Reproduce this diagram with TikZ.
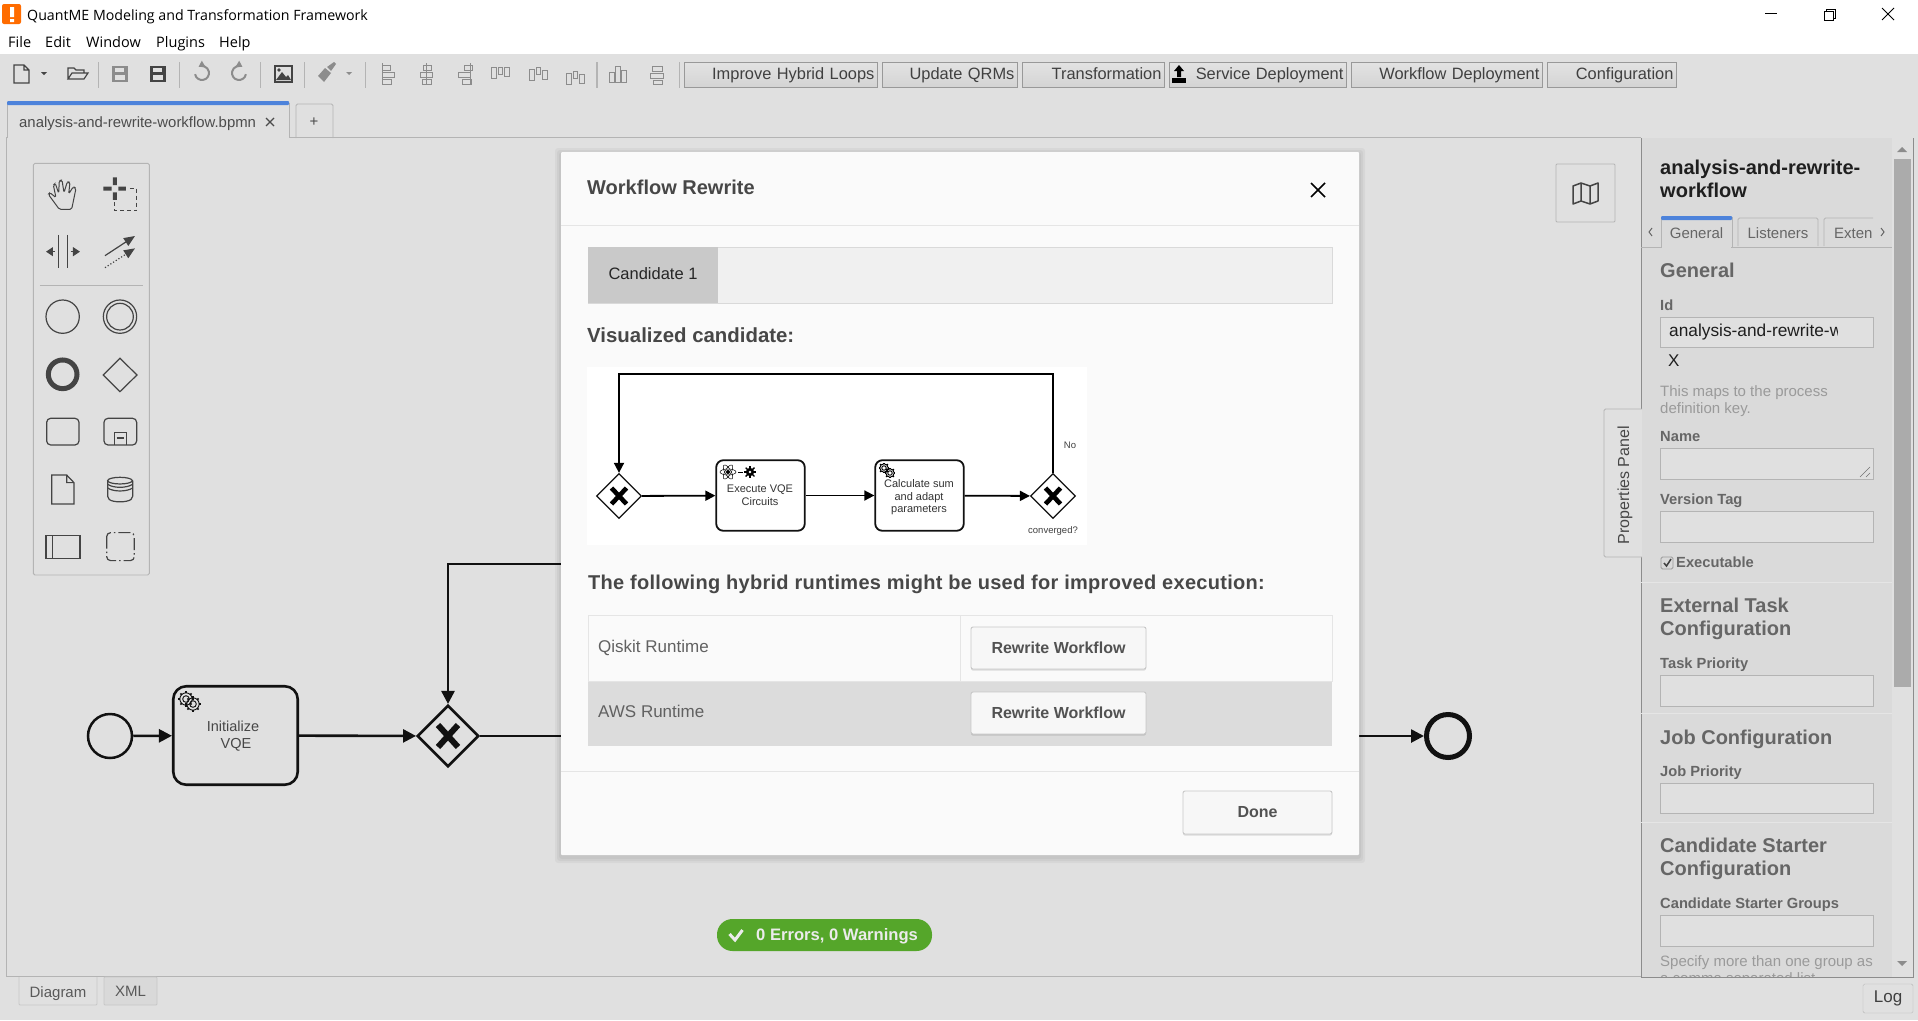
\documentclass[tikz,border=0pt]{standalone}
\usepackage{fontspec}
\setmainfont{Liberation Sans}
\newfontfamily\segoefont{Open Sans}
\usetikzlibrary{arrows.meta,shapes.geometric,calc}

\definecolor{canvasbg}{HTML}{E0E0E0}
\definecolor{panelbg}{HTML}{DADADA}
\definecolor{modalbg}{HTML}{FAFAFA}
\definecolor{rowbg}{HTML}{DCDCDC}
\definecolor{tabdark}{HTML}{C9C9C9}
\definecolor{tablight}{HTML}{F0F0F0}
\definecolor{linegray}{HTML}{B4B4B4}
\definecolor{tabblue}{HTML}{4D83DB}
\definecolor{icongray}{HTML}{444444}
\definecolor{softgray}{HTML}{8C8C8C}
\definecolor{headgray}{HTML}{666666}
\definecolor{helpgray}{HTML}{9A9A9A}
\definecolor{okgreen}{HTML}{55A62A}
\definecolor{inkblack}{HTML}{111111}

\tikzset{
	lbl/.style={font=\fontsize{#1}{#1}\selectfont, inner sep=0pt, anchor=west, yshift=-2.2pt, execute at begin node=\strut},
	lblmid/.style={lbl=#1, anchor=center},
	headlbl/.style={lbl=#1, font=\fontsize{#1}{#1}\selectfont\bfseries, text=headgray},
	smalllbl/.style={lbl=14.7, font=\fontsize{14.7}{14.7}\selectfont\bfseries, text=headgray},
	helplbl/.style={lbl=15, text=helpgray},
	topbtn/.style={draw=black!40, top color=black!11, bottom color=black!17, line width=.8pt, anchor=west, minimum height=25pt, inner xsep=3pt, inner ysep=0pt, align=right, font=\fontsize{16.4}{16.4}\selectfont, text=black!75, execute at begin node=\strut},
	whitebtn/.style={draw=black!22, line width=.9pt, fill=white!97!black, rounded corners=2pt, inner sep=0pt, font=\fontsize{16}{16}\selectfont\bfseries, text=black!68, preaction={fill=black, opacity=.12, transform canvas={yshift=-1.6pt}}},
	inputbox/.style={draw=linegray, fill=canvasbg, line width=.9pt},
	taskbox/.style={draw=inkblack, rounded corners=#1, inner sep=0pt, align=center},
	gatebox/.style={draw=inkblack, diamond, aspect=1, inner sep=0pt},
	flow/.style={draw=inkblack, line width=2.6pt, -{Triangle[length=13pt,width=13pt]}},
	miniflow/.style={draw=black, line width=1.8pt, -{Triangle[length=10pt,width=10pt]}},
	icon/.style={draw=icongray, line width=1.2pt},
	pics/gearicon/.style={code={
		\foreach \a in {0,45,...,315} \draw[line width=1.7pt] (\a:5.4) -- (\a:7.2);
		\draw[line width=.9pt] (0,0) circle[radius=5.6] (0,0) circle[radius=3];
	}},
}

\begin{document}
\begin{tikzpicture}[x=1pt,y=-1pt]
	\useasboundingbox (0,0) rectangle (1918,1020);

	% Hintergrund
	\fill[canvasbg] (0,0) rectangle (1918,1020);
	\fill[white] (0,0) rectangle (1918,54);

	% Titelleiste
	\fill[orange!85!red, rounded corners=2pt] (2,4) rectangle (21,24);
	\fill[white] (10,7) rectangle (14,17) (10,19) rectangle (14,22);
	\node[lbl=14.2, font=\fontsize{14.2}{14.2}\segoefont] (appTitle) at (27,15) {QuantME Modeling and Transformation Framework};
	\foreach \name/\x/\lab in {menuFile/8/File, menuEdit/45/Edit, menuWindow/86/Window, menuPlugins/156/Plugins, menuHelp/219/Help}
		\node[lbl=14.5, font=\fontsize{14.5}{14.5}\segoefont] (\name) at (\x,42) {\lab};
	\draw[line width=1pt] (1765,13) -- (1777,13);
	\draw[line width=1pt] (1824,11) rectangle (1833,20) (1826,11) -- (1826,9) -- (1835,9) -- (1835,18) -- (1833,18);
	\draw[line width=1pt] (1882,8) -- (1894,20) (1894,8) -- (1882,20);

	% Werkzeugleiste
	\foreach \x in {98,179,260,304,365,679}
		\draw[linegray, line width=1pt] (\x,62) -- (\x,88);
	\draw[linegray, line width=2pt] (597,62) -- (597,88);
	\draw[icon,fill=canvasbg] (14,65) -- (24,65) -- (29,70) -- (29,83) -- (14,83) -- cycle (24,65) -- (24,70) -- (29,70);
	\fill[icongray] (41,72) -- (47,72) -- (44,75) -- cycle;
	\draw[icon] (68,79) -- (68,68) -- (74,68) -- (76,70) -- (84,70) -- (84,73) (68,79) -- (72,73) -- (88,73) -- (84,79) -- cycle;
	\foreach \x/\c in {112/softgray,150/icongray} {
		\fill[\c] (\x,66) rectangle ++(16,16);
		\fill[canvasbg] (\x+3,68) rectangle ++(9,4);
		\fill[canvasbg] (\x+3,75) rectangle ++(10,5);
	}
	\draw[softgray, line width=2pt, -{Triangle[length=6pt,width=7pt]}] (195.1,74.2) arc (170:-120:7);
	\draw[softgray, line width=2pt, -{Triangle[length=6pt,width=7pt]}] (245.9,74.2) arc (10:300:7);
	\fill[icongray] (274,65) rectangle (293,83);
	\fill[canvasbg] (276,67) rectangle (291,81);
	\fill[icongray] (276,80) -- (282,72) -- (286,77) -- (288,75) -- (291,80) -- cycle (279,70) circle[radius=1.8];
	\fill[softgray] (318,76) -- (325,68) -- (331,73) -- (324,82) -- cycle (327,67) -- (334,62) -- (336,64) -- (331,71) -- cycle;
	\fill[softgray] (346,72) -- (352,72) -- (349,75) -- cycle;
	% Ausrichten
	\foreach \x/\a/\b/\c in {382/0/0/0, 420/3/0/2, 458/6/0/4} {
		\draw[softgray, line width=1pt] (\x+\a,65) rectangle ++(8,5) (\x+\b,72) rectangle ++(12,5) (\x+\c,79) rectangle ++(9,5);
	}
	\draw[softgray, line width=1pt] (382,63) -- (382,85) (426,63) -- (426,85) (470,63) -- (470,85);
	\foreach \x/\a/\b/\c in {491/67/67/67, 529/69/67/70, 566/73/71/74} {
		\draw[softgray, line width=1pt] (\x,\a) rectangle ++(5,11) (\x+7,\b) rectangle ++(4,7) (\x+13,\c) rectangle ++(5,9);
	}
	\draw[softgray, line width=1pt] (609,72) rectangle ++(5,10) (615,66) rectangle ++(5,16) (621,70) rectangle ++(5,12);
	\draw[softgray, line width=1pt] (652,66) rectangle ++(10,5) (650,73) rectangle ++(13,5) (653,80) rectangle ++(9,4);

	% Schaltflaechen oben
	\foreach \name/\x/\w/\lab in {btnLoops/684/193/Improve Hybrid Loops, btnQrm/882/135/Update QRMs, btnTrans/1022/142/Transformation, btnService/1169/177/Service Deployment, btnWorkflow/1351/191/Workflow Deployment, btnConfig/1547/129/Configuration}
		\node[topbtn, text width={\w pt-6pt}] (\name) at (\x,74.5) {\raisebox{-2pt}[0pt][0pt]{\lab}};
	\fill[black] (1179,65) -- (1184,71) -- (1181,71) -- (1181,77) -- (1177,77) -- (1177,71) -- (1174,71) -- cycle;
	\fill[black] (1172,78) rectangle (1186,83);

	% Reiter
	\draw[linegray, line width=.8pt] (6.5,976.5) -- (6.5,137.5) -- (1641,137.5);
	\fill[canvasbg] (7,101) rectangle (289,139);
	\draw[linegray, line width=.8pt] (7,138) -- (7,103) (289,103) -- (289,138);
	\fill[tabblue, rounded corners=1pt] (7,101) rectangle (289,105);
	\node[lbl=14.9, text=black!70] (tabFile) at (19,122) {analysis-and-rewrite-workflow.bpmn};
	\draw[black!70, line width=1.4pt] (266,118) -- (274,126) (274,118) -- (266,126);
	\draw[linegray, line width=.8pt, rounded corners=1.5pt] (296,138) -- (296,104) -- (333,104) -- (333,138);
	\node[lblmid=15, text=black!70] (tabPlus) at (314,121) {+};

	% Palette
	\begin{scope}[shift={(20,150)},x=.3333pt,y=-.3333pt]
		\draw[linegray, rounded corners=1.5pt, fill=white!88!black, line width=.9pt] (40,40) rectangle (388,1275);
		\draw[icongray, line width=1pt, rounded corners=1.6pt] (118,178) -- (85,133) -- (90,128) -- (108,143) -- (100,105) -- (106,100) -- (116,130) -- (118,92) -- (126,90) -- (132,128) -- (142,95) -- (150,97) -- (146,132) -- (160,110) -- (168,115) -- (155,178) -- cycle;
		\fill[icongray] (250,110) rectangle (275,122) (295,110) rectangle (318,122) (279,82) rectangle (291,105) (279,127) rectangle (291,150);
		\draw[icongray, line width=1pt, dash pattern=on 4pt off 3pt] (330,115) -- (350,115) -- (350,182) -- (283,182) -- (283,150);
		\draw[icongray, line width=1pt] (115,255) -- (115,355) (142,255) -- (142,355);
		\draw[icongray, line width=1.2pt, -{Triangle[length=7pt,width=9pt]}] (105,305) -- (78,305);
		\draw[icongray, line width=1.2pt, -{Triangle[length=7pt,width=9pt]}] (152,305) -- (180,305);
		\draw[icongray, line width=1.2pt, -{Triangle[length=11pt,width=9pt]}] (255,317) -- (345,258);
		\draw[icongray, line width=1.2pt, dotted, -{Triangle[length=11pt,width=9pt]}] (255,353) -- (345,295);
		\draw[linegray, line width=1pt] (60,408) -- (368,408);
		\draw[icon] (128,500) circle[radius=50];
		\draw[icon] (300,500) circle[radius=50] (300,500) circle[radius=40];
		\draw[icongray, line width=5pt] (128,673) circle[radius=43];
		\draw[icon] (300,625) -- (351,675) -- (300,725) -- (250,675) -- cycle;
		\draw[icon, rounded corners=4pt] (80,805) rectangle (177,885);
		\draw[icon, rounded corners=4pt] (252,805) rectangle (350,885);
		\draw[icon] (283,885) -- (283,848) -- (320,848) -- (320,885) (290,864) -- (312,864);
		\draw[icon] (95,975) -- (140,975) -- (162,998) -- (162,1062) -- (95,1062) -- cycle (140,975) -- (140,998) -- (162,998);
		\draw[icon, rounded corners=2pt] (263,992) -- (263,1045) .. controls (280,1058) and (320,1058) .. (338,1045) -- (338,992);
		\draw[icon] (300,992) ellipse[x radius=37, y radius=10];
		\draw[icon] (263,1003) .. controls (280,1015) and (320,1015) .. (338,1003) (263,1014) .. controls (280,1026) and (320,1026) .. (338,1014);
		\draw[icon] (78,1157) rectangle (180,1225) (97,1157) -- (97,1225);
		\draw[icon, rounded corners=4pt, dash pattern=on 12pt off 3pt on 1.5pt off 3pt] (260,1148) rectangle (343,1232);
	\end{scope}

	% Kartenknopf
	\draw[linegray, line width=.8pt, rounded corners=1pt] (1556,164) rectangle (1615,222);
	\draw[icongray, line width=1.5pt, line join=round] (1573,186) -- (1581,183) -- (1590,186) -- (1598,183) -- (1598,201) -- (1590,204) -- (1581,201) -- (1573,204) -- cycle (1581,183) -- (1581,201) (1590,186) -- (1590,204);

	% Hauptdiagramm
	\node[draw=inkblack, circle, line width=2.5pt, minimum size=44pt, inner sep=0pt] (startEvent) at (110,736) {};
	\node[taskbox=13pt, line width=2.6pt, minimum width=124.5pt, minimum height=98.5pt] (initTask) at (235.5,735.5) {};
	\node[lblmid=14.5, text=black!72] (initLabelA) at (233,726) {Initialize};
	\node[lblmid=14.5, text=black!72] (initLabelB) at (236,743) {VQE};
	\pic[inkblack, scale=1.1] at (186,699) {gearicon};
	\pic[inkblack, scale=1.1] at (193,704) {gearicon};
	\node[gatebox, line width=2.6pt, minimum size=61.5pt] (gateMain) at (448,736) {};
	\draw[inkblack, line width=6pt] ($(gateMain)+(-10,-11)$) -- ($(gateMain)+(10,11)$) ($(gateMain)+(10,-11)$) -- ($(gateMain)+(-10,11)$);
	\node[draw=inkblack, circle, line width=5pt, minimum size=43pt, inner sep=0pt] (endEvent) at (1448,736) {};
	\coordinate (loopEnd) at (620,564);
	\draw[flow] (startEvent) -- (initTask);
	\draw[flow] (initTask) -- (gateMain);
	\draw[flow] (loopEnd) -| (gateMain.north);
	\draw[flow] (gateMain) -- (endEvent);

	% Statusanzeige
	\node[fill=okgreen, rounded corners=15.5pt, minimum width=215pt, minimum height=32pt, inner sep=0pt] (statusBadge) at (824.5,935) {};
	\draw[black!8, line width=3pt] (729.5,934) -- (735,940) -- (742.5,930);
	\node[lbl=16.6, font=\fontsize{16.6}{16.6}\selectfont\bfseries, text=black!8] (statusText) at (756,935) {0 Errors, 0 Warnings};

	% Dialog
	\foreach \s in {6,4,2}
		\fill[black, opacity=.04, rounded corners=3pt] (561-\s,152-\s+2) rectangle (1359+\s,855+\s+2);
	\fill[modalbg, rounded corners=1pt] (561,152) rectangle (1359,855);
	\node[lbl=20, font=\fontsize{20}{20}\selectfont\bfseries, text=black!72] (modalTitle) at (587,188) {Workflow Rewrite};
	\draw[black, line width=1.5pt] (1311,183) -- (1325,197) (1325,183) -- (1311,197);
	\draw[black!10, line width=1pt] (561,225) -- (1359,225) (561,771) -- (1359,771);
	\fill[tablight] (588,247) rectangle (1332,303);
	\draw[black!15, line width=.8pt] (588,247) rectangle (1332,303);
	\fill[tabdark] (588,247) rectangle (718,303);
	\node[lblmid=16.5, text=black!85] (candTab) at (653,274) {Candidate 1};
	\node[lbl=20.4, font=\fontsize{20.4}{20.4}\selectfont\bfseries, text=black!72] (visTitle) at (587,336) {Visualized candidate:};

	% Kandidat
	\fill[white] (587,367) rectangle (1087,545);
	\node[gatebox, line width=1.3pt, minimum size=45pt] (gateStart) at (619,496) {};
	\node[taskbox=7pt, line width=1.8pt, minimum width=88.5pt, minimum height=70.5pt] (circuitTask) at (760.5,495.5) {};
	\node[taskbox=7pt, line width=1.8pt, minimum width=88.5pt, minimum height=70.5pt] (sumTask) at (919.5,495.5) {};
	\node[gatebox, line width=1.3pt, minimum size=45pt] (gateEnd) at (1053,496) {};
	\draw[black, line width=4.6pt] ($(gateStart)+(-7.5,-8)$) -- ($(gateStart)+(7.5,8)$) ($(gateStart)+(7.5,-8)$) -- ($(gateStart)+(-7.5,8)$);
	\draw[black, line width=4.6pt] ($(gateEnd)+(-7.5,-8)$) -- ($(gateEnd)+(7.5,8)$) ($(gateEnd)+(7.5,-8)$) -- ($(gateEnd)+(-7.5,8)$);
	\coordinate (topRight) at (1053,374);
	\coordinate (topLeft) at (619,374);
	\draw[miniflow] (gateStart) -- (circuitTask);
	\draw[miniflow] (circuitTask) -- (sumTask);
	\draw[miniflow] (sumTask) -- (gateEnd);
	\draw[miniflow] (gateEnd.north) -- (topRight) -- (topLeft) -- (gateStart.north);
	\foreach \a in {0,60,120}
		\draw[black, line width=.5pt, rotate around={\a:(728,472)}] (728,472) ellipse[x radius=8, y radius=3];
	\fill[black] (728,472) circle[radius=2];
	\draw[black, line width=.8pt] (738,472) -- (743,472);
	\fill[black] (750,472) circle[radius=4.2];
	\foreach \a in {0,45,...,315}
		\draw[black, line width=1.4pt] (750,472) -- ++(\a:6.2);
	\fill[white] (750,472) circle[radius=1.4];
	\pic[black, scale=.75] at (884,468) {gearicon};
	\pic[black, scale=.75] at (890,473) {gearicon};
	\node[lblmid=11, text=black!80] (circuitA) at (760,488) {Execute VQE};
	\node[lblmid=11, text=black!80] (circuitB) at (760,501) {Circuits};
	\node[lblmid=11, text=black!80] (sumA) at (919,483) {Calculate sum};
	\node[lblmid=11, text=black!80] (sumB) at (919,496) {and adapt};
	\node[lblmid=11, text=black!80] (sumC) at (919,508) {parameters};
	\node[lblmid=9.5, text=black!75] (noLabel) at (1070,444) {No};
	\node[lblmid=9.5, text=black!75] (convLabel) at (1053,529) {converged?};

	% Tabelle
	\node[lbl=20, font=\fontsize{20}{20}\selectfont\bfseries\addfontfeature{LetterSpace=1.45}, text=black!72] (runtimeTitle) at (588,583) {The following hybrid runtimes might be used for improved execution:};
	\fill[rowbg] (588,681) rectangle (1332,746);
	\draw[black!10, line width=.8pt] (588,615) rectangle (1332,681) (960,615) -- (960,681);
	\node[lbl=17, text=black!62] (qiskitLabel) at (598,647) {Qiskit Runtime};
	\node[lbl=17, text=black!62] (awsLabel) at (598,712) {AWS Runtime};
	\node[whitebtn, minimum width=175pt, minimum height=42pt] (rewriteQiskit) at (1058.5,648) {Rewrite Workflow};
	\node[whitebtn, minimum width=175pt, minimum height=42pt] (rewriteAws) at (1058.5,713) {Rewrite Workflow};
	\node[whitebtn, minimum width=149pt, minimum height=43pt] (doneBtn) at (1257.5,812.5) {Done};

	% Seitenleiste
	\fill[panelbg] (1641,138) rectangle (1913,977);
	\draw[softgray, line width=1pt] (1641,138) -- (1641,409) (1641,557) -- (1641,977) -- (1913,977) -- (1913,138);
	\fill[black!12] (1892,138) rectangle (1913,977);
	\fill[black!33] (1894,159) rectangle (1911,687);
	\fill[softgray] (1897,152) -- (1907,152) -- (1902,147) -- cycle (1897,961) -- (1907,961) -- (1902,966) -- cycle;
	\draw[linegray, line width=.8pt, fill=canvasbg, rounded corners=1.5pt] (1642,409) -- (1604,409) -- (1604,557) -- (1642,557);
	\node[lblmid=16, rotate=90, text=black!72, yshift=-2.8pt] (panelTab) at (1623,483) {Properties Panel};
	\node[lbl=20, font=\fontsize{20}{20}\selectfont\bfseries, text=black!88] (panelTitleA) at (1660,168) {analysis-and-rewrite-};
	\node[lbl=20, font=\fontsize{20}{20}\selectfont\bfseries, text=black!88] (panelTitleB) at (1660,191) {workflow};
	\draw[linegray, line width=.8pt] (1641,247) -- (1892,247);
	\draw[linegray, line width=.8pt, fill=panelbg] (1661,247) -- (1661,217) -- (1732,217) -- (1732,247);
	\fill[panelbg] (1662,246) rectangle (1731,249);
	\fill[tabblue, rounded corners=1pt] (1661,216) rectangle (1732,220);
	\draw[linegray, line width=.8pt, rounded corners=1.5pt] (1738,246) -- (1738,218) -- (1818,218) -- (1818,246) (1824,246) -- (1824,218) -- (1873,218);
	\node[lblmid=15, text=black!60] (tabGeneral) at (1696.5,233) {General};
	\node[lblmid=15, text=black!60] (tabListeners) at (1778,233) {Listeners};
	\node[lbl=15, text=black!60] (tabExten) at (1834,233) {Exten};
	\draw[black!60, line width=1pt] (1652,228) -- (1649,232) -- (1652,236) (1881,228) -- (1884,232) -- (1881,236);

	% Abschnitte
	\node[headlbl=20] (headGeneral) at (1660,271) {General};
	\node[smalllbl] (lblId) at (1660,305) {Id};
	\node[helplbl] (helpA) at (1660,391) {This maps to the process};
	\node[helplbl] (helpB) at (1660,408) {definition key.};
	\node[smalllbl] (lblName) at (1660,436) {Name};
	\node[smalllbl] (lblVersion) at (1660,499) {Version Tag};
	\node[smalllbl] (lblExec) at (1676,562) {Executable};
	\node[headlbl=20] (headExtA) at (1660,606) {External Task};
	\node[headlbl=20] (headExtB) at (1660,629) {Configuration};
	\node[smalllbl] (lblTask) at (1660,663) {Task Priority};
	\node[headlbl=20] (headJob) at (1660,738) {Job Configuration};
	\node[smalllbl] (lblJob) at (1660,771) {Job Priority};
	\node[headlbl=20] (headCandA) at (1660,846) {Candidate Starter};
	\node[headlbl=20] (headCandB) at (1660,869) {Configuration};
	\node[smalllbl] (lblCand) at (1660,903) {Candidate Starter Groups};
	\node[helplbl] (helpC) at (1660,961) {Specify more than one group as};
	\begin{scope}
		\clip (1650,968) rectangle (1890,976.5);
		\node[helplbl] (helpD) at (1660,978) {a comma separated list};
	\end{scope}
	\foreach \y/\h in {317/30,448/31,511/31,675/31,783/30,915/31}
		\draw[inputbox] (1660,\y) rectangle (1873,\y+\h);
	\begin{scope}
		\clip (1662,318) rectangle (1837,346);
		\node[lbl=17.3, text=black!88] (idValue) at (1669,331) {analysis-and-rewrite-workflow};
	\end{scope}
	\node[lbl=17, text=black!88] (idClear) at (1668,361) {X};
	\draw[black!55, line width=.6pt] (1860,477) -- (1870,467) (1866,477) -- (1870,473);
	\draw[black!40, line width=.9pt, fill=black!15, rounded corners=1.5pt] (1661,557) rectangle (1673,569);
	\draw[black!75, line width=1.5pt] (1664,563) -- (1666.5,566) -- (1671,559);
	\draw[black!10, line width=.8pt] (1641,582) -- (1892,582) (1641,713) -- (1892,713) (1641,822) -- (1892,822);

	% Fussleiste
	\draw[linegray, line width=.8pt] (6.5,976.5) -- (1641,976.5);
	\draw[black!22, line width=.8pt, rounded corners=1pt] (19,977) -- (19,1005) -- (97,1005) -- (97,977);
	\node[lblmid=15, text=black!65] (tabDiagram) at (58,992) {Diagram};
	\node[draw=black!22, line width=.8pt, fill=black!15, rounded corners=1pt, minimum width=53pt, minimum height=28pt, inner sep=0pt, font=\fontsize{15}{15}\selectfont, text=black!65] (tabXml) at (130.5,991) {XML};
	\node[draw=linegray, rounded corners=1.5pt, minimum width=50pt, minimum height=29pt, inner sep=0pt, font=\fontsize{17}{17}\selectfont, text=black!75] (logBtn) at (1888,998.5) {Log};
\end{tikzpicture}
\end{document}
